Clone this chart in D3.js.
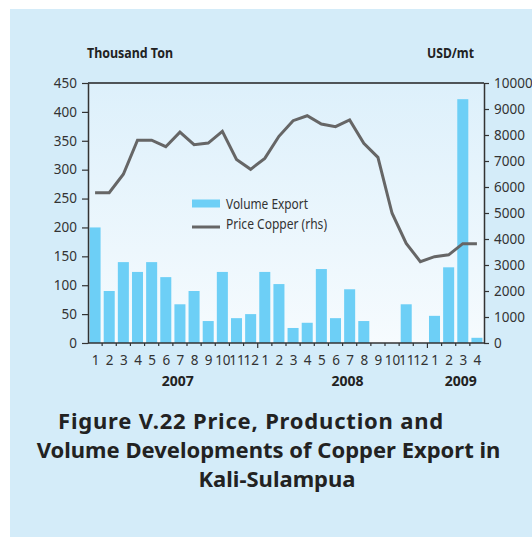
<!DOCTYPE html>
<html>
<head>
<meta charset="utf-8">
<script src="https://cdn.jsdelivr.net/npm/d3@7/dist/d3.min.js"></script>
<style>
  html, body { margin: 0; padding: 0; background: #ffffff; }
  svg { display: block; }
  text { font-family: "Noto Sans", "Open Sans", sans-serif; }
</style>
</head>
<body>
<svg id="chart" width="532" height="537"></svg>
<script>
// ---- data ----
const months = ["1","2","3","4","5","6","7","8","9","10","11","12",
                "1","2","3","4","5","6","7","8","9","10","11","12",
                "1","2","3","4"];
const years = ["2007","2008","2009"];
const yearOfMonth = [0,0,0,0,0,0,0,0,0,0,0,0, 1,1,1,1,1,1,1,1,1,1,1,1, 2,2,2,2];
const volumeExport = [200,90,140,123,140,114,67,90,38,123,43,50,
                      123,102,26,35,128,43,93,38,0,0,67,0,
                      47,131,422,9];
const priceCopper = [5780,5780,6490,7800,7800,7550,8110,7630,7690,8140,7060,6680,
                     7100,7950,8550,8740,8420,8320,8580,7680,7140,4990,3830,3130,
                     3320,3390,3820,3820];
const leftTicks = [0,50,100,150,200,250,300,350,400,450];
const rightTicks = [0,1000,2000,3000,4000,5000,6000,7000,8000,9000,10000];
const seriesNames = ["Volume Export", "Price Copper (rhs)"];
const leftTitle = "Thousand Ton";
const rightTitle = "USD/mt";
const captionLines = ["Figure V.22 Price, Production and",
                      "Volume Developments of Copper Export in",
                      "Kali-Sulampua"];

// ---- layout ----
const svg = d3.select("#chart");
const L = 88, R = 484, T = 83, B = 343;
const barColor = "#6dcff6", lineColor = "#666666", axisColor = "#333333", textColor = "#333333";

const defs = svg.append("defs");
const grad = defs.append("linearGradient").attr("id", "plotGrad")
  .attr("x1", 0).attr("y1", 0).attr("x2", 0).attr("y2", 1);
grad.append("stop").attr("offset", "0%").attr("stop-color", "#ddf0fb");
grad.append("stop").attr("offset", "100%").attr("stop-color", "#f6fbfe");

// panel
svg.append("rect").attr("x", 10).attr("y", 9).attr("width", 522).attr("height", 528)
  .attr("fill", "#d4ecf9");
// plot background
svg.append("rect").attr("x", L).attr("y", T).attr("width", R - L).attr("height", B - T)
  .attr("fill", "url(#plotGrad)");

const idx = d3.range(months.length);
const x = d3.scaleBand().domain(idx).range([L, R]).paddingInner(0.22).paddingOuter(0.11);
const xLin = d3.scaleLinear().domain([0, months.length]).range([L, R]);
const yL = d3.scaleLinear().domain([0, 450]).range([B, T]);
const yR = d3.scaleLinear().domain([0, 10000]).range([B, T]);

// bars
svg.append("g").selectAll("rect").data(idx.filter(i => volumeExport[i] > 0)).join("rect")
  .attr("x", i => x(i))
  .attr("y", i => yL(volumeExport[i]))
  .attr("width", x.bandwidth())
  .attr("height", i => yL(0) - yL(volumeExport[i]))
  .attr("fill", barColor);

// line
const line = d3.line().x(i => x(i) + x.bandwidth() / 2).y(i => yR(priceCopper[i]));
svg.append("path").datum(idx).attr("d", line)
  .attr("fill", "none").attr("stroke", lineColor).attr("stroke-width", 3)
  .attr("stroke-linejoin", "miter");

// left axis
const gL = svg.append("g").attr("transform", `translate(${L},0)`)
  .call(d3.axisLeft(yL).tickValues(leftTicks).tickFormat(d3.format("d"))
        .tickSize(6).tickPadding(5).tickSizeOuter(0));
// right axis
const gR = svg.append("g").attr("transform", `translate(${R},0)`)
  .call(d3.axisRight(yR).tickValues(rightTicks).tickFormat(d3.format("d"))
        .tickSize(5).tickPadding(5).tickSizeOuter(0));
[gL, gR].forEach(g => {
  g.selectAll("path.domain").attr("stroke", axisColor).attr("stroke-width", 1.5);
  g.selectAll(".tick line").attr("stroke", axisColor).attr("stroke-width", 1.2);
  g.selectAll(".tick text").attr("fill", textColor).attr("font-size", 13.5)
    .attr("font-family", "'Noto Sans', sans-serif");
});

// top border
svg.append("line").attr("x1", L).attr("x2", R).attr("y1", T).attr("y2", T)
  .attr("stroke", "#222").attr("stroke-width", 1.3);

// bottom axis
const gB = svg.append("g").attr("transform", `translate(0,${B})`);
gB.append("line").attr("x1", L).attr("x2", R).attr("y1", 0).attr("y2", 0)
  .attr("stroke", axisColor).attr("stroke-width", 1.5);
gB.selectAll("line.tk").data(d3.range(1, months.length)).join("line").attr("class", "tk")
  .attr("x1", d => xLin(d)).attr("x2", d => xLin(d))
  .attr("y1", 0).attr("y2", d => (yearOfMonth[d] !== yearOfMonth[d - 1]) ? 5 : 3)
  .attr("stroke", axisColor).attr("stroke-width", 1.2);
gB.selectAll("text.mo").data(idx).join("text").attr("class", "mo")
  .attr("x", i => x(i) + x.bandwidth() / 2 + 0.5)
  .attr("y", 22)
  .attr("text-anchor", "middle")
  .attr("font-size", 13.5)
  .attr("fill", textColor)
  .text(i => months[i]);

// year labels
svg.selectAll("text.yr").data(years).join("text").attr("class", "yr")
  .attr("x", (d, k) => {
    const ms = idx.filter(i => yearOfMonth[i] === k);
    return (xLin(ms[0]) + xLin(ms[ms.length - 1] + 1)) / 2 + 5;
  })
  .attr("y", 386)
  .attr("text-anchor", "middle")
  .attr("font-size", 14)
  .attr("font-weight", "bold")
  .attr("fill", "#222")
  .text(d => d);

// axis titles
svg.append("text").attr("x", 87).attr("y", 58).attr("font-size", 14).attr("font-weight", "bold")
  .attr("fill", "#222").attr("textLength", 86).attr("lengthAdjust", "spacingAndGlyphs").text(leftTitle);
svg.append("text").attr("x", 427).attr("y", 58).attr("font-size", 14).attr("font-weight", "bold")
  .attr("fill", "#222").attr("textLength", 47).attr("lengthAdjust", "spacingAndGlyphs").text(rightTitle);

// legend
const lg = svg.append("g");
lg.append("rect").attr("x", 192).attr("y", 199.5).attr("width", 28).attr("height", 8).attr("fill", barColor);
lg.append("line").attr("x1", 192).attr("x2", 220).attr("y1", 227).attr("y2", 227)
  .attr("stroke", lineColor).attr("stroke-width", 3);
lg.append("text").attr("x", 226).attr("y", 209).attr("font-size", 13.5).attr("fill", textColor)
  .attr("textLength", 82).attr("lengthAdjust", "spacingAndGlyphs").text(seriesNames[0]);
lg.append("text").attr("x", 226).attr("y", 229).attr("font-size", 13.5).attr("fill", textColor)
  .attr("textLength", 101).attr("lengthAdjust", "spacingAndGlyphs").text(seriesNames[1]);

// caption (same size for all lines, each centred where the reference puts it)
const capCenter = [251, 268.5, 277], capY = [429, 458, 486.5];
svg.selectAll("text.cap").data(captionLines).join("text").attr("class", "cap")
  .attr("x", (d, k) => capCenter[k]).attr("y", (d, k) => capY[k])
  .attr("text-anchor", "middle")
  .attr("font-size", 22).attr("font-weight", "bold").attr("fill", "#222")
  .attr("letter-spacing", (d, k) => k === 0 ? 0.8 : 0)
  .text(d => d);
</script>
</body>
</html>
